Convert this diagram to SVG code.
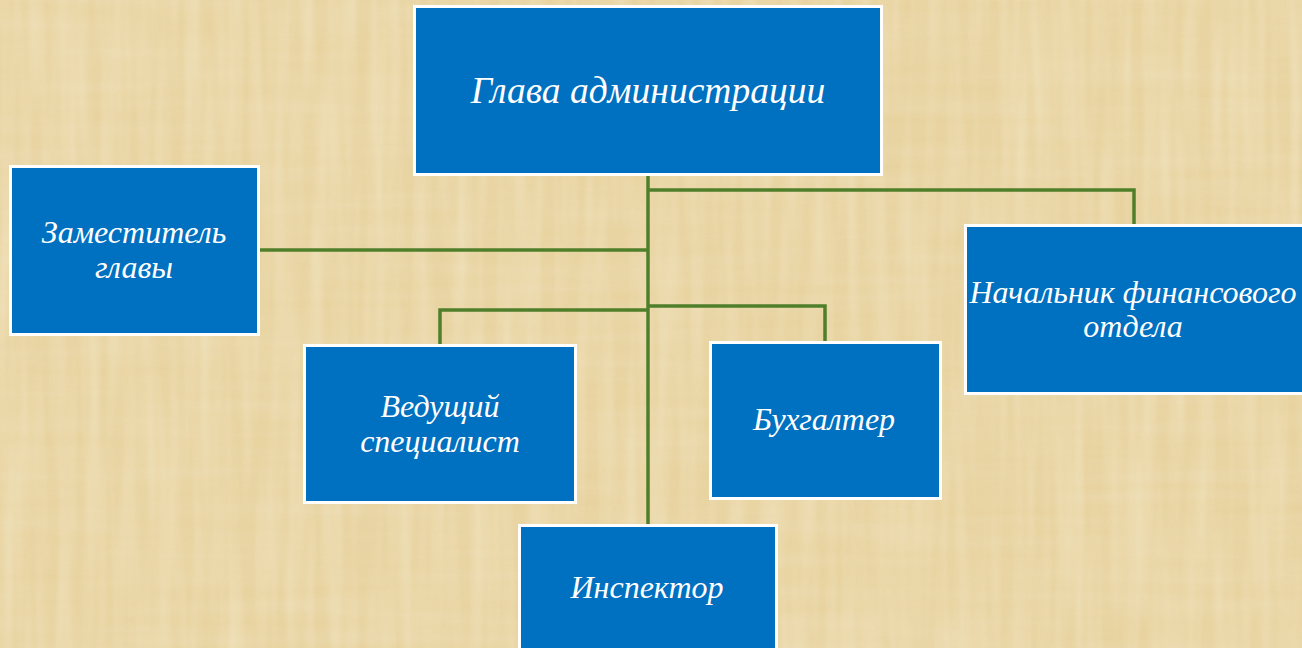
<svg xmlns="http://www.w3.org/2000/svg" width="1302" height="648" viewBox="0 0 1302 648">
<defs>
<filter id="paper" x="0" y="0" width="100%" height="100%">
<feTurbulence type="fractalNoise" baseFrequency="0.004 0.06" numOctaves="3" seed="7" result="n"/>
<feColorMatrix in="n" type="matrix" values="0 0 0 0 0.85  0 0 0 0 0.74  0 0 0 0 0.5  0 0 0 0.9 -0.25"/>
</filter>
<filter id="paper2" x="0" y="0" width="100%" height="100%">
<feTurbulence type="fractalNoise" baseFrequency="0.07 0.005" numOctaves="2" seed="3" result="n"/>
<feColorMatrix in="n" type="matrix" values="0 0 0 0 0.97  0 0 0 0 0.92  0 0 0 0 0.76  0 0 0 0.9 -0.3"/>
</filter>
<style>
.box{fill:#0070C0;stroke:#ffffff;stroke-width:3}
.lbl{font-family:"Liberation Serif","Times New Roman",serif;font-style:italic;fill:#ffffff;text-anchor:middle;font-size:32px}
.con{fill:none;stroke:#4f7f2a;stroke-width:3.5}
</style>
</defs>
<rect x="0" y="0" width="1302" height="648" fill="#e8d3a0"/>
<rect x="0" y="0" width="1302" height="648" filter="url(#paper)" opacity="0.6"/>
<rect x="0" y="0" width="1302" height="648" filter="url(#paper2)" opacity="0.6"/>
<g id="connectors">
<path class="con" d="M648 176 V524"/>
<path class="con" d="M648 190 H1134 V224"/>
<path class="con" d="M260 250 H648"/>
<path class="con" d="M440 344 V310 H648"/>
<path class="con" d="M648 306 H825 V341"/>
</g>
<g id="n-head">
<rect class="box" x="414.5" y="6.5" width="467" height="168"/>
<text class="lbl" x="648" y="103" style="font-size:37.5px">Глава администрации</text>
</g>
<g id="n-deputy">
<rect class="box" x="10.5" y="166.5" width="248" height="168"/>
<text class="lbl" x="134" y="243">Заместитель</text>
<text class="lbl" x="134" y="278">главы</text>
</g>
<g id="n-finance">
<rect class="box" x="965.5" y="225.5" width="340" height="168"/>
<text class="lbl" x="1133" y="303">Начальник финансового</text>
<text class="lbl" x="1133" y="337">отдела</text>
</g>
<g id="n-lead">
<rect class="box" x="304.5" y="345.5" width="271" height="157"/>
<text class="lbl" x="440" y="417">Ведущий</text>
<text class="lbl" x="440" y="452">специалист</text>
</g>
<g id="n-accountant">
<rect class="box" x="710.5" y="342.5" width="230" height="156"/>
<text class="lbl" x="824" y="430">Бухгалтер</text>
</g>
<g id="n-inspector">
<rect class="box" x="519.5" y="525.5" width="257" height="140"/>
<text class="lbl" x="647" y="598">Инспектор</text>
</g>
</svg>
